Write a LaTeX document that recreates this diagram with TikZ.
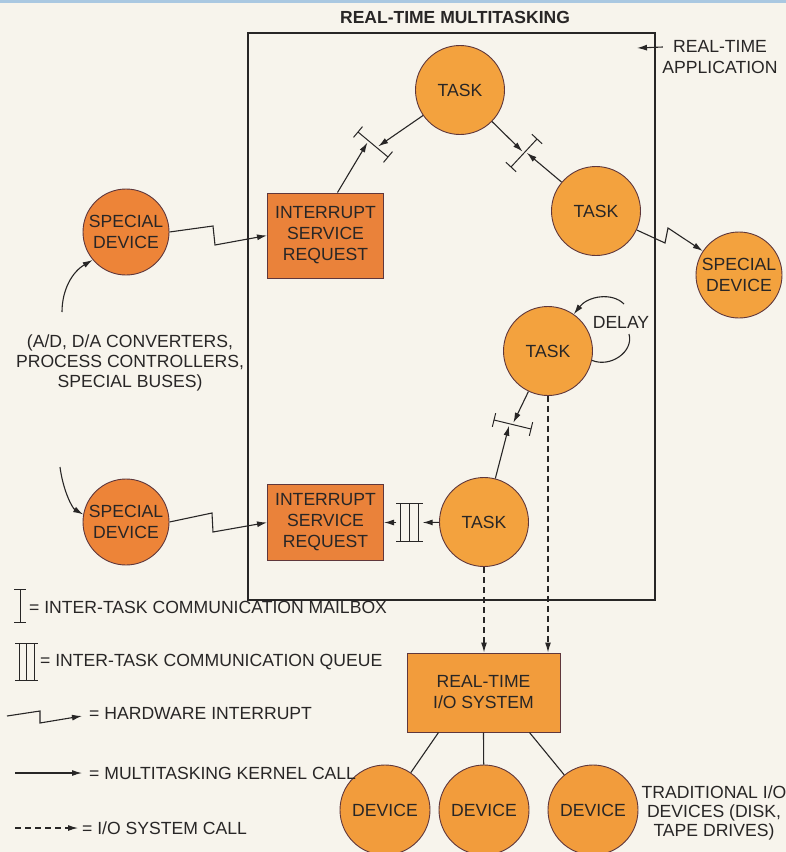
\documentclass[tikz,border=0pt]{standalone}
\usepackage{fontspec}
\setmainfont{Liberation Sans}
\usetikzlibrary{arrows.meta,calc}
\definecolor{bgc}{RGB}{247,244,236}
\definecolor{strip}{RGB}{170,200,225}
\definecolor{taskc}{RGB}{243,162,62}
\definecolor{specc}{RGB}{237,132,56}
\definecolor{isrc}{RGB}{234,130,58}
\definecolor{devc}{RGB}{242,156,60}
\definecolor{outl}{RGB}{95,55,60}
\definecolor{ink}{RGB}{40,38,38}
\newcommand\dfont{\fontsize{17.6}{21}\selectfont}
\newcommand\mailboxsym[2]{%
  \draw[sym] (#1) -- (#2);
  \draw[sym] ($(#1)!7pt!90:(#2)$) -- ($(#1)!7pt!-90:(#2)$);
  \draw[sym] ($(#2)!7pt!90:(#1)$) -- ($(#2)!7pt!-90:(#1)$);}
\begin{document}
\begin{tikzpicture}[x=1pt,y=-1pt,
  every node/.style={font=\dfont, text=ink},
  circ/.style={circle, draw=outl, line width=0.9pt, inner sep=0pt, align=center},
  tasknode/.style={circ, fill=taskc, minimum size=89pt},
  specnode/.style={circ, fill=specc, minimum size=86pt},
  devnode/.style={circ, fill=devc, minimum size=90pt},
  boxnode/.style={rectangle, draw=outl, line width=1pt, fill=isrc, align=center, inner sep=0pt},
  ln/.style={draw=ink, line width=1.1pt},
  arr/.style={ln, -{Latex[length=10pt,width=6pt]}},
  darr/.style={arr, dash pattern=on 6pt off 4pt},
  sym/.style={draw=ink, line width=1pt},
  legtext/.style={anchor=west, inner sep=0pt},
]
\fill[bgc] (0,0) rectangle (786,852);
\fill[strip] (0,0) rectangle (786,3);
\useasboundingbox (0,0) rectangle (786,852);

% title and application frame
\node[font=\bfseries\fontsize{17.5}{20}\selectfont] (title) at (455,17) {REAL-TIME MULTITASKING};
\node[draw=ink, line width=1.1pt, minimum width=407pt, minimum height=567pt, inner sep=0pt] (app) at (451.5,316.5) {};
\node[align=center] (rta) at (720,57) {REAL-TIME\\APPLICATION};
\coordinate (rtatip) at (637,48);
\draw[arr] ([yshift=10pt,xshift=4pt]rta.west) -- (rtatip);

% nodes
\node[tasknode] (tt) at (460,90) {TASK};
\node[tasknode] (tr) at (596,211) {TASK};
\node[tasknode] (tm) at (548,351) {TASK};
\node[tasknode] (tb) at (484,522) {TASK};
\node[specnode] (sd1) at (126,232) {SPECIAL\\DEVICE};
\node[specnode] (sd2) at (126,522) {SPECIAL\\DEVICE};
\node[specnode, fill=taskc] (sd3) at (739,275) {SPECIAL\\DEVICE};
\node[boxnode, minimum width=116pt, minimum height=85pt] (isr1) at (325.5,235.5) {INTERRUPT\\SERVICE\\REQUEST};
\node[boxnode, minimum width=116pt, minimum height=76pt] (isr2) at (325.5,522.5) {INTERRUPT\\SERVICE\\REQUEST};
\node[boxnode, fill=devc, minimum width=153pt, minimum height=79pt] (io) at (483.5,692.5) {REAL-TIME\\I/O SYSTEM};
\node[devnode] (d1) at (385,810) {DEVICE};
\node[devnode] (d2) at (484,810) {DEVICE};
\node[devnode] (d3) at (593,810) {DEVICE};

% delay loop
\node (delay) at (621,322) {DELAY};
\coordinate (dl1) at (629,334);
\coordinate (dl2) at (624,304);
\draw[ln] (tm.-12) .. controls (610,368) and (634,352) .. (dl1);
\draw[arr] (dl2) .. controls (612,292) and (588,296) .. (tm.55);

% hardware interrupts
\draw[arr] (sd1.east) -- (213,226) -- (215,245) -- (isr1.west);
\draw[arr] (sd2.east) -- (212,513) -- (213,532) -- (isr2.west);
\draw[arr] (tr.-25) -- (665,243) -- (668,228) -- (sd3);

% note
\node[align=center, font=\fontsize{17.6}{19.8}\selectfont] (note) at (130,363) {(A/D, D/A CONVERTERS,\\PROCESS CONTROLLERS,\\SPECIAL BUSES)};
\coordinate (c1) at (62,312);
\coordinate (c2) at (60,467);
\draw[arr] (c1) .. controls (62,290) and (72,272) .. (sd1.220);
\draw[arr] (c2) .. controls (63,490) and (72,508) .. (sd2.170);

% mailboxes
\coordinate (m1a) at (358,132); \coordinate (m1b) at (388,157);
\mailboxsym{m1a}{m1b}
\draw[arr, shorten >=2pt] (tt) -- ($(m1a)!0.62!(m1b)$);
\draw[arr, shorten >=2pt] ([xshift=12pt]isr1.north) -- ($(m1a)!0.35!(m1b)$);
\coordinate (m2a) at (537,139); \coordinate (m2b) at (511,167);
\mailboxsym{m2a}{m2b}
\draw[arr, shorten >=2pt] (tt) -- ($(m2a)!0.5!(m2b)$);
\draw[arr, shorten >=2pt] (tr) -- ($(m2a)!0.45!(m2b)$);
\coordinate (m3a) at (494,420); \coordinate (m3b) at (531,429);
\mailboxsym{m3a}{m3b}
\draw[arr, shorten >=2pt] (tm) -- ($(m3a)!0.5!(m3b)$);
\draw[arr, shorten >=2pt] (tb) -- ($(m3a)!0.42!(m3b)$);

% queue
\node[minimum width=26pt, minimum height=38pt, inner sep=0pt] (q) at (409.5,522.5) {};
\draw[sym] (q.north west) -- (q.north east) (q.south west) -- (q.south east);
\foreach \f in {0.15,0.5,0.85} \draw[sym] ($(q.north west)!\f!(q.north east)$) -- ($(q.south west)!\f!(q.south east)$);
\draw[arr] (tb) -- (q.east);
\draw[arr] (q.west) -- (isr2.east);

% I/O system calls
\draw[darr] (tb.south) -- (tb.south |- io.north);
\draw[darr] (tm.south) -- (tm.south |- io.north);
\draw[ln] ([xshift=-45pt]io.south) -- (d1);
\draw[ln] (io.south) -- (d2);
\draw[ln] ([xshift=46pt]io.south) -- (d3);
\node[align=center, font=\fontsize{17.6}{19}\selectfont] (trad) at (714,813) {TRADITIONAL I/O\\DEVICES (DISK,\\TAPE DRIVES)};

% legend
\draw[sym] (20,589) -- (20,622) (14,589) -- (26,589) (14,622) -- (26,622);
\node[legtext] (l1) at (29,607) {= INTER-TASK COMMUNICATION MAILBOX};
\draw[sym] (15,643) -- (38,643) (15,680) -- (38,680);
\foreach \xx in {19,26.5,34} \draw[sym] (\xx,643) -- (\xx,680);
\node[legtext] (l2) at (40,662) {= INTER-TASK COMMUNICATION QUEUE};
\coordinate (h0) at (7,716); \coordinate (h1) at (82,716);
\draw[arr] (h0) -- (40,711) -- (40,723) -- (h1);
\node[legtext] (l3) at (89,714) {= HARDWARE INTERRUPT};
\coordinate (k0) at (15,773); \coordinate (k1) at (82,773);
\draw[arr] (k0) -- (k1);
\node[legtext] (l4) at (89,773) {= MULTITASKING KERNEL CALL};
\coordinate (s0) at (15,828); \coordinate (s1) at (78,828);
\draw[darr] (s0) -- (s1);
\node[legtext] (l5) at (82,828) {= I/O SYSTEM CALL};
\end{tikzpicture}
\end{document}
